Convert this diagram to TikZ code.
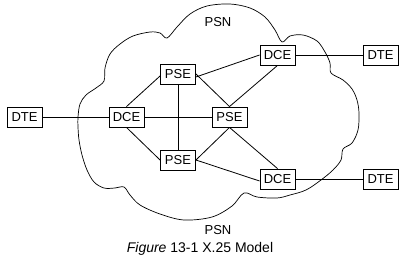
\documentclass[tikz,border=0pt]{standalone}
\usepackage{fontspec}
\setmainfont{Liberation Sans}
\begin{document}
\begin{tikzpicture}[x=1pt, y=-1pt,
        box/.style={draw=black, line width=0.9pt, fill=white, minimum width=35pt,
                    minimum height=20pt, inner sep=0pt, font=\fontsize{13}{15}\selectfont},
        link/.style={draw=black, line width=0.8pt},
        cloud/.style={draw=black, line width=0.7pt},
        lbl/.style={font=\fontsize{13}{15}\selectfont}
      ]
        \useasboundingbox (0,0) rectangle (406,267);

        % network cloud
        \draw[cloud] plot[smooth cycle, tension=0.55] coordinates {
            (78,117) (80,104) (86,95) (96,88) (104,81) (105,68) (110,54) (120,44)
            (133,36) (150,32) (160,33) (167,38) (177,27) (190,14) (207,6) (230,4)
            (250,8) (265,17) (275,30) (282,42) (290,36) (303,35) (317,41) (325,52)
            (330,63) (331,73) (343,80) (352,89) (357,100) (359,113) (358,130)
            (352,143) (343,149) (341,160) (333,170) (321,180) (306,190) (290,195)
            (277,198) (257,197) (244,193) (232,206) (212,217) (184,220) (160,214)
            (140,205) (130,195) (124,187) (115,188) (104,188) (94,182) (87,170)
            (82,155) (79,140) (78,127)};

        \node[lbl] (psnt) at (218,22)  {PSN};
        \node[lbl] (psnb) at (218,230) {PSN};

        \node[box] (dte1) at (24.5,117) {DTE};
        \node[box] (dce1) at (126.5,117) {DCE};
        \node[box] (pse1) at (178,74)  {PSE};
        \node[box] (pse2) at (229.5,117) {PSE};
        \node[box] (pse3) at (178,160) {PSE};
        \node[box] (dce2) at (277.5,55) {DCE};
        \node[box] (dte2) at (380.5,55) {DTE};
        \node[box] (dce3) at (277.5,179) {DCE};
        \node[box] (dte3) at (380.5,179) {DTE};

        \draw[link] (dte1.east)  -- (dce1.west);
        \draw[link] (dce1.east)  -- (pse2.west);
        \draw[link] (dce1.north) -- ([yshift=-2pt]pse1.west);
        \draw[link] (dce1.south) -- (pse3.west);
        \draw[link] (pse1.south) -- (pse3.north);
        \draw[link] (pse1.east)  -- (pse2.north);
        \draw[link] ([yshift=-3pt]pse1.east) -- (dce2.west);
        \draw[link] (dce2.south) -- (pse2.north);
        \draw[link] (pse2.south) -- (pse3.east);
        \draw[link] (pse2.south) -- (dce3.north);
        \draw[link] (pse3.east)  -- ([yshift=-2pt]dce3.west);
        \draw[link] (dce2.east)  -- (dte2.west);
        \draw[link] (dce3.east)  -- (dte3.west);

        \node[lbl, font=\fontsize{14}{16}\selectfont] (cap) at (200,249)
            {\textit{Figure} 13-1 X.25 Model};
      \end{tikzpicture}
\end{document}
